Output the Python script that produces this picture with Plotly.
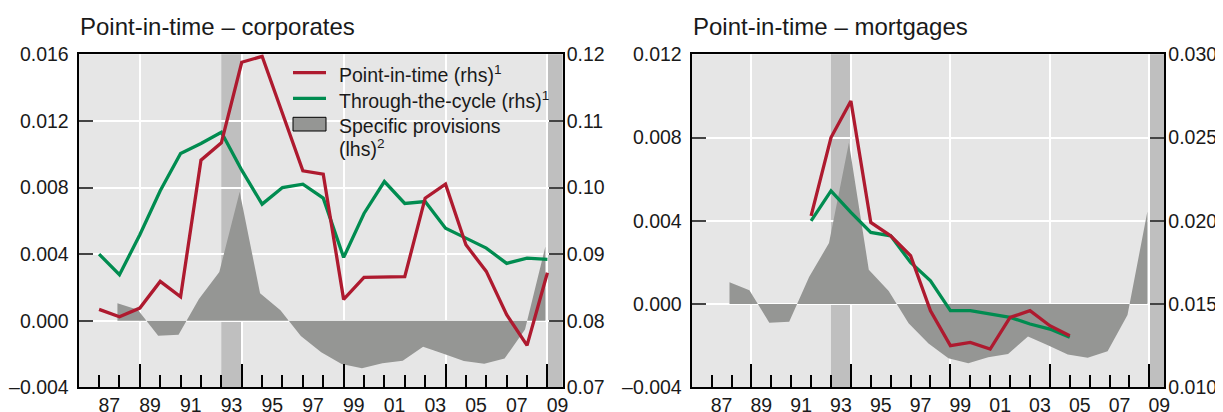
import plotly.graph_objects as go

# ---------------- data ----------------
line_years_corp = list(range(1987, 2010))
pit_corp = [0.0817, 0.0806, 0.0819, 0.0859, 0.0836, 0.1041, 0.1067, 0.1188, 0.1197, 0.1110,
            0.1025, 0.1020, 0.0832, 0.0865, 0.0865, 0.0866, 0.0984, 0.1005, 0.0914, 0.0874,
            0.0809, 0.0763, 0.0872]
ttc_corp = [0.0900, 0.0869, 0.0929, 0.0995, 0.1051, 0.1066, 0.1083, 0.1026, 0.0975, 0.1000,
            0.1005, 0.0984, 0.0895, 0.0961, 0.1009, 0.0976, 0.0979, 0.0939, 0.0924, 0.0909,
            0.0886, 0.0894, 0.0892]

line_years_mort = list(range(1992, 2006))
pit_mort = [0.0203, 0.0250, 0.0272, 0.0199, 0.0191, 0.0179, 0.0146, 0.0125, 0.0127, 0.0123,
            0.0142, 0.0146, 0.0137, 0.0131]
ttc_mort = [0.0200, 0.0218, 0.0205, 0.0193, 0.0191, 0.0175, 0.0164, 0.0146, 0.0146, 0.0144,
            0.0142, 0.0138, 0.0135, 0.0130]

prov_years = list(range(1988, 2010))
provisions = [0.00105, 0.00066, -0.00090, -0.00085, 0.00130, 0.00293, 0.00775, 0.00165,
              0.00063, -0.00092, -0.00190, -0.00260, -0.00285, -0.00256, -0.00240, -0.00156,
              -0.00198, -0.00242, -0.00258, -0.00227, -0.00053, 0.00445]

recessions = [(1993, 1994), (2009, None)]

x_label_years = list(range(1987, 2010, 2))
x_labels = ["%02d" % (y % 100) for y in x_label_years]
x_major = [1989, 1994, 1999, 2004, 2009]
x_minor = list(range(1987, 2010))

lhs_corp_ticks = [-0.004, 0.0, 0.004, 0.008, 0.012, 0.016]
lhs_corp_text = ["\u20130.004", "0.000", "0.004", "0.008", "0.012", "0.016"]
rhs_corp_ticks = [0.07, 0.08, 0.09, 0.10, 0.11, 0.12]
rhs_corp_text = ["0.07", "0.08", "0.09", "0.10", "0.11", "0.12"]
lhs_mort_ticks = [-0.004, 0.0, 0.004, 0.008, 0.012]
lhs_mort_text = ["\u20130.004", "0.000", "0.004", "0.008", "0.012"]
rhs_mort_ticks = [0.010, 0.015, 0.020, 0.025, 0.030]
rhs_mort_text = ["0.010", "0.015", "0.020", "0.025", "0.030"]

titles = ["Point-in-time \u2013 corporates", "Point-in-time \u2013 mortgages"]
legend_labels = ["Point-in-time (rhs)<sup>1</sup>", "Through-the-cycle (rhs)<sup>1</sup>",
                 "Specific provisions", "(lhs)<sup>2</sup>"]

# ---------------- style ----------------
OFF = 8                      # page body margin of the written html
W, H = 1223 - OFF, 412 - OFF
FONT = "Liberation Sans, Arial, sans-serif"
TXT = "#1a1a1a"
RED = "#AE1A2F"
GREEN = "#008C50"
AREA = "#959694"
BAND = "#BFBFBF"
BG = "#E6E6E6"
X_RANGE = [1986, 2009.75]
AREA_SHIFT = -0.1


def px(p):
    return (p - OFF) / W


def py(p):
    return 1 - (p - OFF) / H


dom_left = [px(78.7), px(562.7)]
dom_right = [px(691.7), px(1164.3)]
dom_y = [py(387.3), py(54.3)]

fig = go.Figure()

panels = [
    dict(xa="x", xl="x3", y="y", y2="y2", pit=pit_corp, ttc=ttc_corp, yrs=line_years_corp),
    dict(xa="x2", xl="x4", y="y3", y2="y4", pit=pit_mort, ttc=ttc_mort, yrs=line_years_mort),
]

for p in panels:
    fig.add_trace(go.Scatter(
        x=[v + AREA_SHIFT for v in prov_years], y=provisions, xaxis=p["xa"], yaxis=p["y"],
        mode="lines", fill="tozeroy", fillcolor=AREA, line=dict(width=0, color=AREA),
        showlegend=False, hoverinfo="skip"))
    fig.add_trace(go.Scatter(
        x=p["yrs"], y=p["ttc"], xaxis=p["xl"], yaxis=p["y2"], mode="lines",
        line=dict(color=GREEN, width=3.3), showlegend=False))
    fig.add_trace(go.Scatter(
        x=p["yrs"], y=p["pit"], xaxis=p["xl"], yaxis=p["y2"], mode="lines",
        line=dict(color=RED, width=3.3), showlegend=False))

tickfont = dict(family=FONT, size=19.5, color=TXT)


def x_main(domain, anchor):
    return dict(domain=domain, anchor=anchor, range=X_RANGE, tickmode="array",
                tickvals=x_major, showticklabels=False, ticks="inside", ticklen=23,
                tickwidth=1.5, tickcolor="black", showgrid=True, gridcolor="white",
                gridwidth=1.5, showline=True, linecolor="black", linewidth=2.2, mirror=True,
                zeroline=False, automargin=False,
                minor=dict(tickmode="array", tickvals=x_minor, ticks="inside", ticklen=12,
                           tickwidth=1.5, tickcolor="black", showgrid=False))


def x_labels_axis(over, anchor):
    return dict(overlaying=over, anchor=anchor, side="bottom", range=X_RANGE,
                tickmode="array", tickvals=[v + 0.5 for v in x_label_years],
                ticktext=x_labels, ticks="", showgrid=False, showline=False,
                zeroline=False, tickfont=tickfont, ticklabelstandoff=4, automargin=False)


def y_left(domain, anchor, rng, vals, text):
    return dict(domain=domain, anchor=anchor, range=rng, tickmode="array", tickvals=vals,
                ticktext=text, ticks="inside", ticklen=14, tickwidth=1.5, tickcolor="#444",
                showgrid=True, gridcolor="white", gridwidth=1.5, showline=True,
                linecolor="black", linewidth=2.2, mirror=True, zeroline=False,
                tickfont=tickfont, ticklabelstandoff=4, automargin=False)


def y_right(over, anchor, rng, vals, text):
    return dict(overlaying=over, anchor=anchor, side="right", range=rng, tickmode="array",
                tickvals=vals, ticktext=text, ticks="inside", ticklen=14, tickwidth=1.5,
                tickcolor="#444", showgrid=False, showline=False, zeroline=False,
                tickfont=tickfont, ticklabelstandoff=3, automargin=False)


fig.update_layout(
    width=W, height=H,
    margin=dict(l=0, r=0, t=0, b=0, pad=0),
    paper_bgcolor="white", plot_bgcolor=BG,
    font=dict(family=FONT, color=TXT),
    showlegend=False,
    xaxis=x_main(dom_left, "y"),
    xaxis3=x_labels_axis("x", "y"),
    xaxis2=x_main(dom_right, "y3"),
    xaxis4=x_labels_axis("x2", "y3"),
    yaxis=y_left(dom_y, "x", [-0.004, 0.016], lhs_corp_ticks, lhs_corp_text),
    yaxis2=y_right("y", "x", [0.07, 0.12], rhs_corp_ticks, rhs_corp_text),
    yaxis3=y_left(dom_y, "x2", [-0.004, 0.012], lhs_mort_ticks, lhs_mort_text),
    yaxis4=y_right("y3", "x2", [0.010, 0.030], rhs_mort_ticks, rhs_mort_text),
)

shapes = []
for xr, yr in [("x", "y domain"), ("x2", "y3 domain")]:
    for a, b in recessions:
        shapes.append(dict(type="rect", xref=xr, yref=yr, x0=a, x1=(b if b else X_RANGE[1]),
                           y0=0, y1=1, fillcolor=BAND, line=dict(width=0), layer="below"))

# legend (manual, inside left panel)
leg_x0, leg_x1, leg_tx = 293, 326, 336.7
rows = [72.7, 98.3, 125.0, 146.7]
shapes.append(dict(type="line", xref="paper", yref="paper", x0=px(leg_x0), x1=px(leg_x1),
                   y0=py(rows[0]), y1=py(rows[0]), line=dict(color=RED, width=3.3)))
shapes.append(dict(type="line", xref="paper", yref="paper", x0=px(leg_x0), x1=px(leg_x1),
                   y0=py(rows[1]), y1=py(rows[1]), line=dict(color=GREEN, width=3.3)))
shapes.append(dict(type="rect", xref="paper", yref="paper", x0=px(leg_x0), x1=px(leg_x1),
                   y0=py(131), y1=py(117.3), fillcolor=AREA, line=dict(color="black", width=1)))
fig.update_layout(shapes=shapes)

annotations = []
for txt, r in zip(legend_labels, rows):
    annotations.append(dict(text=txt, xref="paper", yref="paper", x=px(leg_tx), y=py(r + 1.5),
                            xanchor="left", yanchor="middle", showarrow=False,
                            font=dict(family=FONT, size=19.5, color=TXT)))
for txt, xp in zip(titles, [78, 691]):
    annotations.append(dict(text=txt, xref="paper", yref="paper", x=px(xp), y=py(26),
                            xanchor="left", yanchor="middle", showarrow=False,
                            font=dict(family=FONT, size=24, color=TXT)))
fig.update_layout(annotations=annotations)

fig.write_html("out.html")
